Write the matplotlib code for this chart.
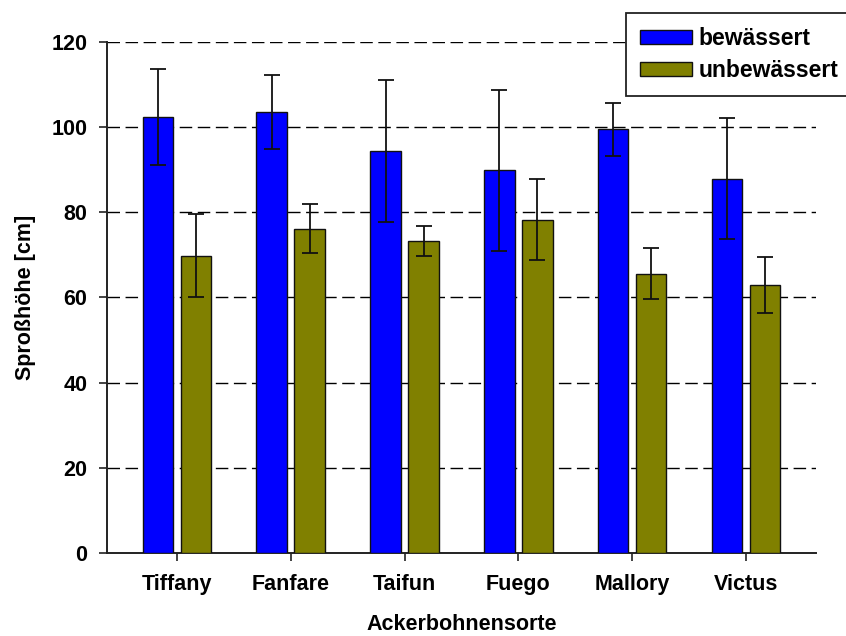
import numpy as np
import matplotlib
matplotlib.use("Agg")
from matplotlib import pyplot as plt

plt.rcParams['font.family'] = ['Liberation Sans', 'DejaVu Sans']
plt.rcParams['font.weight'] = 'bold'

sorten = ['Tiffany', 'Fanfare', 'Taifun', 'Fuego', 'Mallory', 'Victus']
bewaessert = [102.4, 103.5, 94.4, 89.9, 99.5, 87.9]
bewaessert_err = [11.3, 8.7, 16.6, 18.9, 6.2, 14.2]
unbewaessert = [69.8, 76.2, 73.3, 78.3, 65.6, 62.9]
unbewaessert_err = [9.8, 5.7, 3.6, 9.6, 6.05, 6.65]
yticks = [0, 20, 40, 60, 80, 100, 120]

fig = plt.figure(figsize=(8.46, 6.36), dpi=100)
ax = fig.add_axes([0.1265, 0.1305, 0.8380, 0.8035])

x = np.arange(len(sorten))
w = 0.27
off = 0.167
err_kw = dict(ecolor='#111111', elinewidth=1.3, capsize=5.5, capthick=1.3)

ax.bar(x - off, bewaessert, w, yerr=bewaessert_err, color='#0000ff',
       edgecolor='#111111', linewidth=1.0, label='bewässert', error_kw=err_kw, zorder=3)
ax.bar(x + off, unbewaessert, w, yerr=unbewaessert_err, color='#808000',
       edgecolor='#111111', linewidth=1.0, label='unbewässert', error_kw=err_kw, zorder=3)

ax.set_xlim(-0.616, len(sorten) - 1 + 0.616)
ax.set_ylim(0, 120)
ax.set_yticks(yticks)
ax.set_xticks(x)
ax.set_xticklabels(sorten)

# dashed horizontal guides behind the bars
for v in yticks[1:]:
    ax.axhline(v, color='black', linewidth=1.0, linestyle=(0, (9, 4)), zorder=1)

for s in ['top', 'right']:
    ax.spines[s].set_visible(False)
for s in ['left', 'bottom']:
    ax.spines[s].set_linewidth(1.4)
    ax.spines[s].set_color('#222222')

ax.tick_params(axis='both', labelsize=15.5, width=1.2, length=6, color='#222222')
ax.tick_params(axis='y', pad=8)
ax.tick_params(axis='x', pad=9)

ax.set_xlabel('Ackerbohnensorte', fontsize=15.5, fontweight='bold', labelpad=14)
ax.set_ylabel('Sproßhöhe [cm]', fontsize=15.5, fontweight='bold', labelpad=11.5)

leg = fig.legend(loc='upper left', bbox_to_anchor=(626 / 846, 1 - 13 / 636),
                 bbox_transform=fig.transFigure, fontsize=16.5, frameon=True,
                 fancybox=False, borderaxespad=0, borderpad=0.62,
                 handlelength=2.25, handleheight=0.58, handletextpad=0.28,
                 labelspacing=0.38)
leg.get_frame().set_edgecolor('#222222')
leg.get_frame().set_linewidth(1.3)
leg.get_frame().set_alpha(1)

fig.savefig('out.png', dpi=100)
